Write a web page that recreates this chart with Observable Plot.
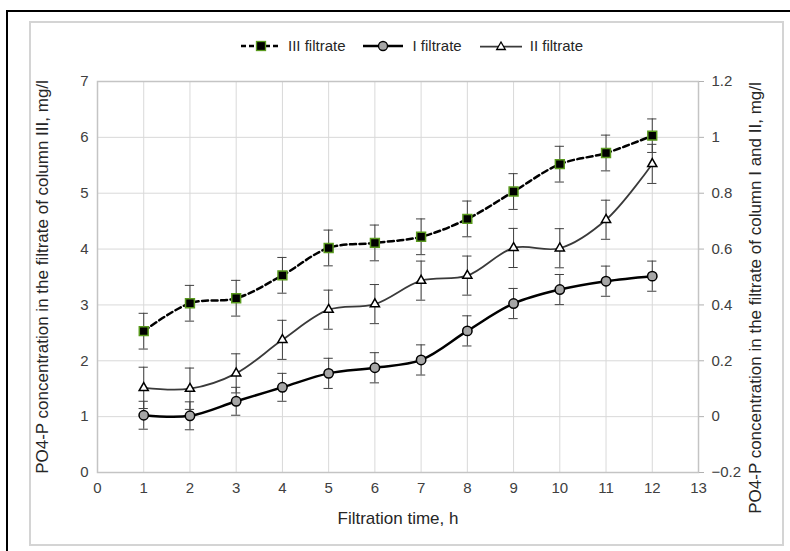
<!DOCTYPE html>
<html>
<head>
<meta charset="utf-8">
<script src="https://cdn.jsdelivr.net/npm/d3@7"></script>
<script src="https://cdn.jsdelivr.net/npm/@observablehq/plot@0.6"></script>
<style>
  html, body { margin: 0; padding: 0; background: #fff; }
  body { font-family: "Liberation Sans", Arial, sans-serif; }
  #wrap { position: relative; width: 790px; height: 551px; overflow: hidden; background: #fff; }
  #outer { position: absolute; left: 6px; top: 10px; width: 900px; height: 700px;
           border-left: 2px solid #000; border-top: 2px solid #000; }
  #inner { position: absolute; left: 29px; top: 21px; width: 751px; height: 521px;
           border: 2px solid #d4d4d4; }
  #chart { position: absolute; left: 0; top: 0; }
  #legend { position: absolute; top: 37px; left: 240px; display: flex; align-items: center;
            font-size: 15px; color: #262626; white-space: nowrap; }
  #legend .item { display: flex; align-items: center; }
  #legend svg { display: block; }
</style>
</head>
<body>
<div id="wrap">
  <div id="outer"></div>
  <div id="inner"></div>
  <div id="chart"></div>
  <div id="legend"></div>
</div>
<script>
// ---- data ----
const hours = [1, 2, 3, 4, 5, 6, 7, 8, 9, 10, 11, 12];
// III filtrate (left axis, mg/l)
const filtrateIII = [2.53, 3.03, 3.12, 3.53, 4.02, 4.11, 4.22, 4.54, 5.03, 5.52, 5.72, 6.03];
const errIII = [0.32, 0.32, 0.32, 0.32, 0.32, 0.32, 0.32, 0.32, 0.32, 0.32, 0.32, 0.3];
// I filtrate (right axis, mg/l)
const filtrateI = [0.005, 0.003, 0.055, 0.105, 0.155, 0.175, 0.203, 0.307, 0.405, 0.455, 0.485, 0.503];
const errI = [0.05, 0.05, 0.05, 0.05, 0.054, 0.054, 0.054, 0.054, 0.054, 0.054, 0.054, 0.054];
// II filtrate (right axis, mg/l)
const filtrateII = [0.103, 0.1, 0.155, 0.275, 0.383, 0.403, 0.487, 0.505, 0.604, 0.603, 0.705, 0.905];
const errII = [0.074, 0.074, 0.07, 0.07, 0.07, 0.07, 0.07, 0.07, 0.07, 0.07, 0.07, 0.07];

const xTicks = [0, 1, 2, 3, 4, 5, 6, 7, 8, 9, 10, 11, 12, 13];
const leftTicks = [0, 1, 2, 3, 4, 5, 6, 7];
const rightTicks = [-0.2, 0, 0.2, 0.4, 0.6, 0.8, 1, 1.2];

const xTitle = "Filtration time, h";
const leftTitle = "PO4-P concentration in the filtrate of column III, mg/l";
const rightTitle = "PO4-P concentration in the filtrate of column I and II, mg/l";
const seriesNames = ["III filtrate", "I filtrate", "II filtrate"];

// right axis value -> left axis scale
const toLeft = r => (r + 0.2) * 5;
const fmtRight = r => { const v = Math.round(r * 10) / 10; return v < 0 ? "\u2212" + Math.abs(v) : String(v); };

const rowsIII = hours.map((h, i) => ({x: h, y: filtrateIII[i], lo: filtrateIII[i] - errIII[i], hi: filtrateIII[i] + errIII[i]}));
const rowsI = hours.map((h, i) => ({x: h, y: toLeft(filtrateI[i]), lo: toLeft(filtrateI[i] - errI[i]), hi: toLeft(filtrateI[i] + errI[i])}));
const rowsII = hours.map((h, i) => ({x: h, y: toLeft(filtrateII[i]), lo: toLeft(filtrateII[i] - errII[i]), hi: toLeft(filtrateII[i] + errII[i])}));
const allRows = [...rowsIII, ...rowsI, ...rowsII];
const capW = 0.1;

const GREEN = "#5a9a1e";
const ERR = "#404040";

const chart = Plot.plot({
  width: 790,
  height: 551,
  marginLeft: 97,
  marginRight: 92,
  marginTop: 81,
  marginBottom: 79,
  style: { fontFamily: "Liberation Sans, Arial, sans-serif", fontSize: "15px", color: "#404040", background: "transparent" },
  x: { domain: [0, 13] },
  y: { domain: [0, 7] },
  marks: [
    Plot.gridX(xTicks, { stroke: "#d9d9d9", strokeOpacity: 1 }),
    Plot.gridY(leftTicks, { stroke: "#d9d9d9", strokeOpacity: 1 }),
    Plot.frame({ stroke: "#c4c4c4", strokeWidth: 1.5 }),
    Plot.axisX({ ticks: xTicks, tickFormat: d => String(d), tickSize: 0, tickPadding: 10, label: null, fill: "#404040" }),
    Plot.axisY({ anchor: "left", ticks: leftTicks, tickFormat: d => String(d), tickSize: 0, tickPadding: 9, label: null, fill: "#404040" }),
    Plot.axisY({ anchor: "right", ticks: rightTicks.map(toLeft), tickFormat: d => fmtRight(d / 5 - 0.2),
                 tickSize: 5, tickPadding: 8, label: null, stroke: "#b0b0b0", fill: "#404040" }),
    Plot.text([xTitle], { frameAnchor: "bottom", dy: 46, textAnchor: "middle", lineAnchor: "middle", fontSize: 17, fill: "#262626" }),
    Plot.text([leftTitle], { frameAnchor: "left", dx: -55, rotate: -90, textAnchor: "middle", lineAnchor: "middle", fontSize: 17, fill: "#262626" }),
    Plot.text([rightTitle], { frameAnchor: "right", dx: 57, dy: 21, rotate: -90, textAnchor: "middle", lineAnchor: "middle", fontSize: 17, fill: "#262626" }),
    // error bars
    Plot.ruleX(allRows, { x: "x", y1: "lo", y2: "hi", stroke: ERR, strokeWidth: 1 }),
    Plot.ruleY(allRows, { y: "lo", x1: d => d.x - capW, x2: d => d.x + capW, stroke: ERR, strokeWidth: 1 }),
    Plot.ruleY(allRows, { y: "hi", x1: d => d.x - capW, x2: d => d.x + capW, stroke: ERR, strokeWidth: 1 }),
    // lines
    Plot.line(rowsII, { x: "x", y: "y", curve: "catmull-rom", stroke: "#3a3a3a", strokeWidth: 1.75 }),
    Plot.line(rowsI, { x: "x", y: "y", curve: "catmull-rom", stroke: "#000", strokeWidth: 2.5 }),
    Plot.line(rowsIII, { x: "x", y: "y", curve: "catmull-rom", stroke: "#000", strokeWidth: 2.5, strokeDasharray: "6,3.5" }),
    // markers
    Plot.dot(rowsII, { x: "x", y: "y", symbol: "triangle", r: 3.4, fill: "#fff", stroke: "#000", strokeWidth: 1.5 }),
    Plot.dot(rowsI, { x: "x", y: "y", symbol: "circle", r: 4.7, fill: "#a6a6a6", stroke: "#000", strokeWidth: 1.5 }),
    Plot.dot(rowsIII, { x: "x", y: "y", symbol: "square", r: 5, fill: "#000", stroke: GREEN, strokeWidth: 1.5 })
  ]
});
document.getElementById("chart").appendChild(chart);

// ---- legend ----
const legend = document.getElementById("legend");
const swatches = [
  `<svg width="42" height="14"><line x1="1" y1="7" x2="41" y2="7" stroke="#000" stroke-width="2.5" stroke-dasharray="5,3"/><rect x="16.5" y="2.5" width="9" height="9" fill="#000" stroke="${GREEN}" stroke-width="1.3"/></svg>`,
  `<svg width="40" height="14"><line x1="0" y1="7" x2="40" y2="7" stroke="#000" stroke-width="2.5"/><circle cx="20" cy="7" r="4.5" fill="#a6a6a6" stroke="#000" stroke-width="1.3"/></svg>`,
  `<svg width="42" height="14"><line x1="0" y1="7.5" x2="42" y2="7.5" stroke="#3a3a3a" stroke-width="1.75"/><path d="M21,3 L25.3,10.5 L16.7,10.5 Z" fill="#fff" stroke="#000" stroke-width="1.3"/></svg>`
];
const gaps = [17, 18, 0];
const textGap = [6, 10, 8];
seriesNames.forEach((name, i) => {
  const item = document.createElement("div");
  item.className = "item";
  item.style.marginRight = gaps[i] + "px";
  item.innerHTML = swatches[i] + `<span style="margin-left:${textGap[i]}px">${name}</span>`;
  legend.appendChild(item);
});
</script>
</body>
</html>
